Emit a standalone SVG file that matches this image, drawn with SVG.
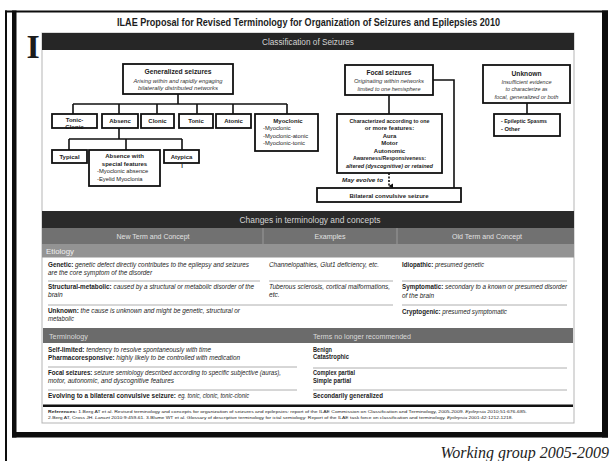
<svg xmlns="http://www.w3.org/2000/svg" width="612" height="461" viewBox="0 0 612 461">
<style>
text{font-family:"Liberation Sans",Arial,sans-serif;fill:#1c1c1c}
.b{font-weight:bold}
.i{font-style:italic}
.box{fill:#fff;stroke:#111;stroke-width:1.8}
.ln{fill:none;stroke:#111;stroke-width:1.6}
.sep{stroke:#9a9a9a;stroke-width:0.8}
.n{font-size:6px;font-weight:bold;text-anchor:middle}
.t{font-size:7.2px;font-weight:bold;text-anchor:middle}
.s{font-size:6px;font-style:italic;text-anchor:middle;fill:#333}
.l{font-size:5.8px}
.hd{fill:#d4d4d4;font-size:8.5px;text-anchor:middle}
.ch{fill:#e2e2e2;font-size:7px;text-anchor:middle}
.r{font-size:6.6px}
.k{font-size:6.6px;font-weight:bold}
.ref{font-size:4.4px}
</style>
<defs>
<marker id="ah" markerWidth="6" markerHeight="6" refX="3" refY="5" orient="auto" markerUnits="userSpaceOnUse" viewBox="0 0 6 6"><path d="M0.5,1 L3,5.5 L5.5,1 Z" fill="#111"/></marker>
</defs>
<rect width="612" height="461" fill="#fff"/>
<g id="frame" fill="#0d0d0d">
<rect x="5" y="10.5" width="603" height="2"/>
<rect x="5" y="10.5" width="2" height="451"/>
<rect x="12" y="10.5" width="4.5" height="427"/>
<rect x="602" y="10.5" width="6" height="427"/>
<rect x="12" y="432" width="596" height="5.5"/>
</g>
<text x="308.5" y="26" class="b" font-size="10.5" text-anchor="middle" textLength="383" lengthAdjust="spacingAndGlyphs">ILAE Proposal for Revised Terminology for Organization of Seizures and Epilepsies 2010</text>
<text x="26.5" y="58" font-weight="bold" font-size="34" style="font-family:'Liberation Serif',serif">I</text>
<g id="panel">
<rect x="42" y="33" width="532" height="390" fill="#fff" stroke="#b5b5b5" stroke-width="1"/>
<rect x="42" y="33" width="532" height="17" fill="#262626"/>
<text x="308" y="44.5" class="hd" textLength="92" lengthAdjust="spacingAndGlyphs">Classification of Seizures</text>
</g>
<g id="connectors">
<path class="ln" d="M178 94V104M73 104H287M73 104V114M119 104V114M157 104V114M197 104V114M233 104V114M287 104V114"/>
<path class="ln" d="M119 128V139M69 139H182M69 139V150M126 139V150M182 139V150"/>
<path class="ln" d="M389 95V114M433 80H454V188"/>
<path class="ln" d="M527 103V114"/>
<path fill="none" stroke="#111" stroke-width="1.6" stroke-dasharray="2,1.5" d="M389 173V186" marker-end="url(#ah)"/>
</g>
<g id="generalized">
<rect class="box" x="123" y="64" width="110" height="30"/>
<text x="178" y="74" class="t" textLength="67" lengthAdjust="spacingAndGlyphs">Generalized seizures</text>
<text x="178" y="82.5" class="s" textLength="89" lengthAdjust="spacingAndGlyphs">Arising within and rapidly engaging</text>
<text x="178" y="90" class="s" textLength="80" lengthAdjust="spacingAndGlyphs">bilaterally distributed networks</text>
</g>
<g id="tonic-clonic">
<text x="74.5" y="128.5" class="n">Clonic</text>
<rect class="box" x="52" y="114" width="45" height="14" style="fill:none"/>
<text x="74.5" y="121.5" class="n">Tonic-</text>
</g>
<g id="absence">
<rect class="box" x="102" y="114" width="36" height="14"/>
<text x="120" y="123" class="n">Absenc</text>
</g>
<g id="clonic">
<rect class="box" x="141" y="114" width="33" height="14"/>
<text x="157.5" y="123" class="n">Clonic</text>
</g>
<g id="tonic">
<rect class="box" x="179" y="114" width="34" height="14"/>
<text x="196" y="123" class="n">Tonic</text>
</g>
<g id="atonic">
<rect class="box" x="216" y="114" width="35" height="14"/>
<text x="233.5" y="123" class="n">Atonic</text>
</g>
<g id="myoclonic">
<rect class="box" x="255" y="114" width="63" height="37"/>
<text x="288" y="122.5" class="n">Myoclonic</text>
<text x="263" y="130" class="l">-Myoclonic</text>
<text x="263" y="137.5" class="l">-Myoclonic-atonic</text>
<text x="263" y="145" class="l">-Myoclonic-tonic</text>
</g>
<g id="typical">
<rect class="box" x="52" y="150" width="35" height="13"/>
<text x="69.5" y="158.5" class="n">Typical</text>
</g>
<g id="absence-special">
<rect class="box" x="89" y="150" width="71" height="36"/>
<text x="124.5" y="158" class="n">Absence with</text>
<text x="124.5" y="165.5" class="n">special features</text>
<text x="97" y="173" class="l">-Myoclonic absence</text>
<text x="97" y="180.5" class="l">-Eyelid Myoclonia</text>
</g>
<g id="atypical">
<text x="182" y="168" class="n">l</text>
<rect class="box" x="164" y="150" width="35" height="13"/>
<text x="181.5" y="158.5" class="n">Atypica</text>
</g>
<g id="focal">
<rect class="box" x="345" y="65" width="88" height="30"/>
<text x="389" y="75" class="t" textLength="45" lengthAdjust="spacingAndGlyphs">Focal seizures</text>
<text x="389" y="83" class="s" textLength="70" lengthAdjust="spacingAndGlyphs">Originating within networks</text>
<text x="389" y="90.5" class="s" textLength="63" lengthAdjust="spacingAndGlyphs">limited to one hemisphere</text>
</g>
<g id="characterized">
<rect class="box" x="337" y="114" width="105" height="59"/>
<text x="389.5" y="122.5" class="n" textLength="80" lengthAdjust="spacingAndGlyphs">Characterized according to one</text>
<text x="389.5" y="130" class="n">or more features:</text>
<text x="389.5" y="137.5" class="n">Aura</text>
<text x="389.5" y="145" class="n">Motor</text>
<text x="389.5" y="152.5" class="n">Autonomic</text>
<text x="389.5" y="160" class="n" textLength="73" lengthAdjust="spacingAndGlyphs">Awareness/Responsiveness:</text>
<text x="389.5" y="167.5" class="n i" textLength="87" lengthAdjust="spacingAndGlyphs">altered (dyscognitive) or retained</text>
</g>
<text x="342" y="182" class="b i" font-size="6.2" textLength="41" lengthAdjust="spacingAndGlyphs">May evolve to</text>
<g id="bilateral">
<rect class="box" x="317" y="188" width="144" height="14"/>
<text x="389" y="197.5" class="n" textLength="79" lengthAdjust="spacingAndGlyphs">Bilateral convulsive seizure</text>
</g>
<g id="unknown">
<rect class="box" x="483" y="65" width="87" height="38"/>
<text x="526.5" y="75.5" class="t" textLength="30" lengthAdjust="spacingAndGlyphs">Unknown</text>
<text x="526.5" y="83.5" class="s" textLength="50" lengthAdjust="spacingAndGlyphs">Insufficient evidence</text>
<text x="526.5" y="91" class="s" textLength="42" lengthAdjust="spacingAndGlyphs">to characterize as</text>
<text x="526.5" y="98.5" class="s" textLength="64" lengthAdjust="spacingAndGlyphs">focal, generalized or both</text>
</g>
<g id="unknown-types">
<rect class="box" x="494" y="114" width="66" height="22"/>
<text x="501" y="123" class="l b" textLength="46" lengthAdjust="spacingAndGlyphs">- Epileptic Spasms</text>
<text x="501" y="130.5" class="l b">- Other</text>
</g>
<g id="table">
<rect x="42" y="211" width="532" height="17" fill="#2a2a2a"/>
<text x="310" y="222.5" class="hd" textLength="141" lengthAdjust="spacingAndGlyphs">Changes in terminology and concepts</text>
<rect x="42" y="228" width="532" height="16" fill="#717171"/>
<path stroke="#a5a5a5" stroke-width="0.8" d="M263 228V244M397 228V244"/>
<text x="153" y="239" class="ch" textLength="73" lengthAdjust="spacingAndGlyphs">New Term and Concept</text>
<text x="330" y="239" class="ch" textLength="31" lengthAdjust="spacingAndGlyphs">Examples</text>
<text x="487" y="239" class="ch" textLength="70" lengthAdjust="spacingAndGlyphs">Old Term and Concept</text>
<rect x="42" y="244" width="532" height="13.5" fill="#939393"/>
<text x="46" y="253.5" font-size="6.5" style="fill:#efefef" textLength="28" lengthAdjust="spacingAndGlyphs">Etiology</text>
<text x="48" y="267" class="r" textLength="201" lengthAdjust="spacingAndGlyphs"><tspan class="b">Genetic:</tspan><tspan class="i"> genetic defect directly contributes to the epilepsy and seizures</tspan></text>
<text x="48" y="274.5" class="r i" textLength="104" lengthAdjust="spacingAndGlyphs">are the core symptom of the disorder</text>
<text x="48" y="289" class="r" textLength="206" lengthAdjust="spacingAndGlyphs"><tspan class="b">Structural-metabolic:</tspan><tspan class="i"> caused by a structural or metabolic disorder of the</tspan></text>
<text x="48" y="297" class="r i">brain</text>
<text x="48" y="313" class="r" textLength="192" lengthAdjust="spacingAndGlyphs"><tspan class="b">Unknown:</tspan><tspan class="i"> the cause is unknown and might be genetic, structural or</tspan></text>
<text x="48" y="321" class="r i" textLength="26" lengthAdjust="spacingAndGlyphs">metabolic</text>
<text x="269" y="267" class="r i" textLength="110" lengthAdjust="spacingAndGlyphs">Channelopathies, Glut1 deficiency, etc.</text>
<text x="269" y="289" class="r i" textLength="121" lengthAdjust="spacingAndGlyphs">Tuberous sclerosis, cortical malformations,</text>
<text x="269" y="297" class="r i">etc.</text>
<text x="402" y="267" class="r" textLength="82" lengthAdjust="spacingAndGlyphs"><tspan class="b">Idiopathic:</tspan><tspan class="i"> presumed genetic</tspan></text>
<text x="402" y="289" class="r" textLength="165" lengthAdjust="spacingAndGlyphs"><tspan class="b">Symptomatic:</tspan><tspan class="i"> secondary to a known or presumed disorder</tspan></text>
<text x="402" y="297.5" class="r i" textLength="32" lengthAdjust="spacingAndGlyphs">of the brain</text>
<text x="402" y="314" class="r" textLength="105" lengthAdjust="spacingAndGlyphs"><tspan class="b">Cryptogenic:</tspan><tspan class="i"> presumed symptomatic</tspan></text>
<path class="sep" d="M48 281H260M269 281H393M402 281H567M48 305H393M402 305H567"/>
<rect x="43" y="328" width="530" height="15" fill="#6b6b6b"/>
<text x="49" y="338.5" font-size="7" style="fill:#dadada" textLength="39" lengthAdjust="spacingAndGlyphs">Terminology</text>
<text x="313" y="338.5" font-size="7" style="fill:#dadada" textLength="98" lengthAdjust="spacingAndGlyphs">Terms no longer recommended</text>
<text x="48" y="352" class="r" textLength="163" lengthAdjust="spacingAndGlyphs"><tspan class="b">Self-limited:</tspan><tspan class="i"> tendency to resolve spontaneously with time</tspan></text>
<text x="48" y="359.5" class="r" textLength="192" lengthAdjust="spacingAndGlyphs"><tspan class="b">Pharmacoresponsive:</tspan><tspan class="i"> highly likely to be controlled with medication</tspan></text>
<text x="48" y="375" class="r" textLength="233" lengthAdjust="spacingAndGlyphs"><tspan class="b">Focal seizures:</tspan><tspan class="i"> seizure semiology described according to specific subjective (auras),</tspan></text>
<text x="48" y="383" class="r i" textLength="126" lengthAdjust="spacingAndGlyphs">motor, autonomic, and dyscognitive features</text>
<text x="48" y="398" class="r b" textLength="128" lengthAdjust="spacingAndGlyphs">Evolving to a bilateral convulsive seizure:</text>
<text x="178" y="398" class="r i" textLength="71" lengthAdjust="spacingAndGlyphs">eg. tonic, clonic, tonic-clonic</text>
<text x="313" y="351.5" class="k" textLength="19" lengthAdjust="spacingAndGlyphs">Benign</text>
<text x="313" y="359" class="k" textLength="36" lengthAdjust="spacingAndGlyphs">Catastrophic</text>
<text x="313" y="375" class="k" textLength="42" lengthAdjust="spacingAndGlyphs">Complex partial</text>
<text x="313" y="382.5" class="k" textLength="38" lengthAdjust="spacingAndGlyphs">Simple partial</text>
<text x="313" y="398" class="k" textLength="70" lengthAdjust="spacingAndGlyphs">Secondarily generalized</text>
<path class="sep" d="M48 367H297M313 368H567M48 390H297M313 390H567"/>
<rect x="43" y="404.5" width="530" height="2.5" fill="#111"/>
<text x="48" y="413" class="ref" textLength="479" lengthAdjust="spacingAndGlyphs"><tspan class="b">References:</tspan> 1.Berg AT et al. Revised terminology and concepts for organization of seizures and epilepsies: report of the ILAE Commission on Classification and Terminology, 2005-2009. <tspan class="i">Epilepsia</tspan> 2010;51:676-685.</text>
<text x="48" y="418.5" class="ref" textLength="465" lengthAdjust="spacingAndGlyphs">2.Berg AT, Cross JH. <tspan class="i">Lancet</tspan> 2010:9:459-61.  3.Blume WT et al. Glossary of descriptive terminology for ictal semiology: Report of the ILAE task force on classification and terminology. <tspan class="i">Epilepsia</tspan> 2001:42:1212-1218.</text>
</g>
<text x="609" y="458" text-anchor="end" font-size="16" style="font-family:'Liberation Serif',serif;font-style:italic;fill:#222">Working group 2005-2009</text>
</svg>
